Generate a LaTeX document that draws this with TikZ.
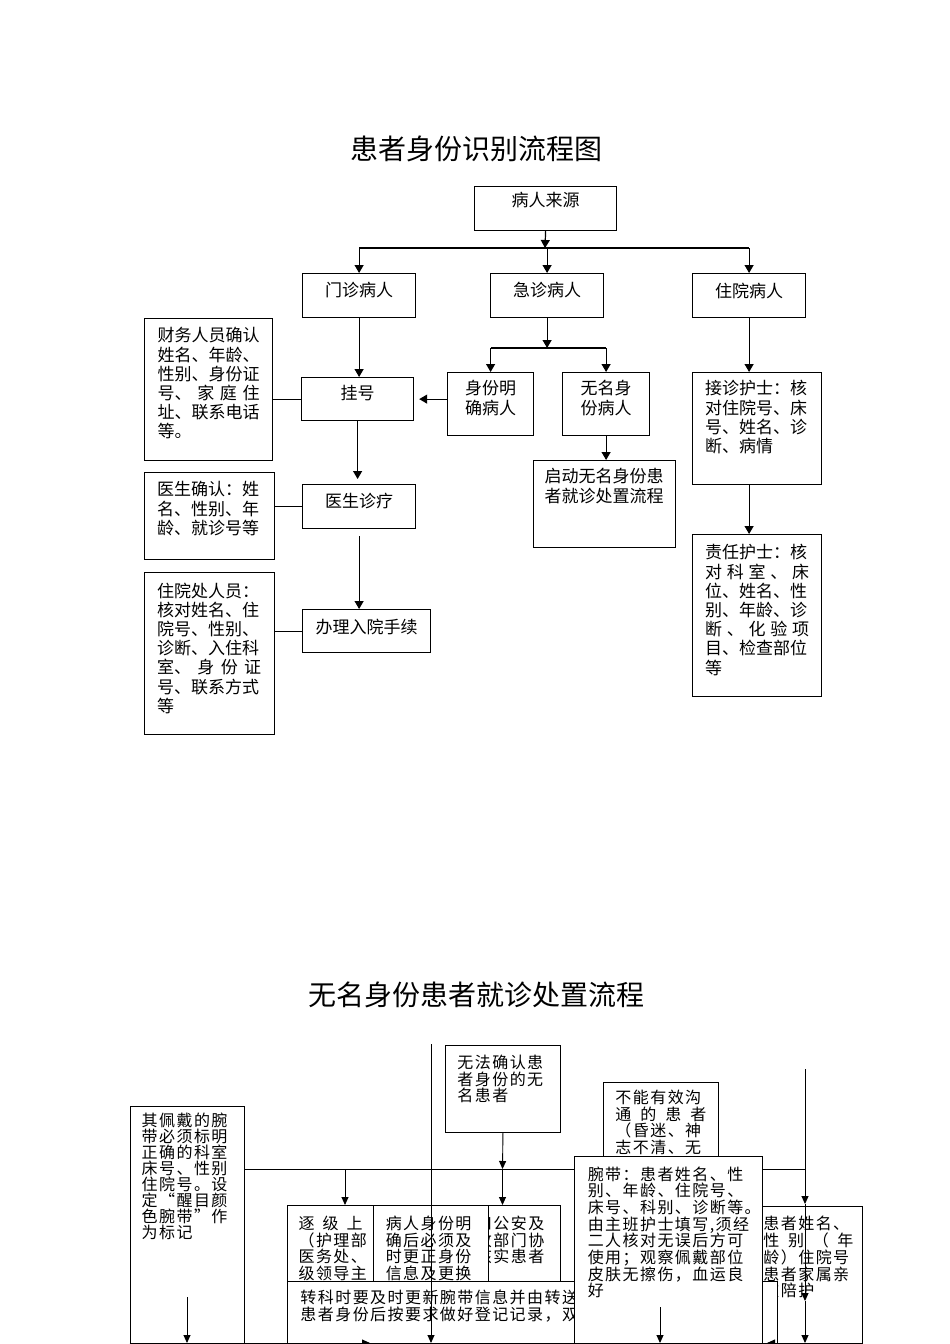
\documentclass[tikz,border=0pt]{standalone}
\usepackage{fontspec}
\setmainfont{Noto Sans CJK SC}
\newfontfamily\spacedcjk[LetterSpace=9]{Noto Sans CJK SC}
\usetikzlibrary{arrows.meta}

% 文字顶端对齐的固定高度框
\newcommand{\topbox}[2]{\parbox[c][#1][t]{\linewidth}{#2}}
% 两端撑开的一行
\newcommand{\spread}[2][\linewidth]{\makebox[#1][s]{#2}}

\tikzset{
  upper/.style={draw, fill=white, line width=1.2pt, anchor=north west,
    inner ysep=0pt, inner xsep=0pt, font=\fontsize{17}{19.2}\selectfont},
  lower/.style={draw, fill=white, line width=0.9pt, anchor=north west,
    inner ysep=0pt, inner xsep=12pt, font=\spacedcjk\fontsize{16}{16.7}\selectfont},
  arr/.style={-{Triangle[length=8pt,width=9pt]}, line width=1.2pt},
  thinarr/.style={-{Triangle[length=8pt,width=7pt]}, line width=0.9pt},
}

\begin{document}
\begin{tikzpicture}[x=1pt, y=-1pt]
    \useasboundingbox[fill=white] (0,0) rectangle (950,1344);

    % 患者身份识别流程图
    \node[font=\fontsize{28}{30}\selectfont] (title1) at (476,149) {患者身份识别流程图};

    \node[upper, text width=142] (src) at (474,186) {\topbox{44pt}{\vspace*{6pt}\centering 病人来源}};
    \node[upper, text width=113] (mz) at (302,273) {\topbox{44pt}{\vspace*{9pt}\centering 门诊病人}};
    \node[upper, text width=113] (jz) at (490,273) {\topbox{44pt}{\vspace*{9pt}\centering 急诊病人}};
    \node[upper, text width=113] (zy) at (692,273) {\topbox{44pt}{\vspace*{9pt}\centering 住院病人}};

    \node[upper, text width=112] (gh) at (301,377) {\topbox{43pt}{\vspace*{8pt}\centering 挂号}};
    \node[upper, text width=86] (sf) at (447,372) {\topbox{63pt}{\vspace*{8pt}\centering 身份明\\确病人}};
    \node[upper, text width=87] (wm) at (562,372) {\topbox{63pt}{\vspace*{8pt}\centering 无名身\\份病人}};
    \node[upper, text width=113] (ysz) at (302,484) {\topbox{44pt}{\vspace*{9pt}\centering 医生诊疗}};
    \node[upper, text width=128] (bl) at (302,609) {\topbox{43pt}{\vspace*{9pt}\centering 办理入院手续}};

    \node[upper, text width=102, inner xsep=13pt] (cw) at (144,318) {\topbox{142pt}{\vspace*{9pt}\raggedright
      财务人员确认\\姓名、年龄、\\性别、身份证\\\spread{号、\hfill 家\hfill 庭\hfill 住}\\址、联系电话\\等。}};
    \node[upper, text width=104, inner xsep=12.5pt] (jzhs) at (692,372) {\topbox{112pt}{\vspace*{8pt}\raggedright
      接诊护士：核\\对住院号、床\\号、姓名、诊\\断、病情}};
    \node[upper, text width=104, inner xsep=13pt] (ysqr) at (143.5,472) {\topbox{87pt}{\vspace*{9pt}\raggedright
      医生确认：姓\\名、性别、年\\龄、就诊号等}};
    \node[upper, text width=120, inner xsep=11pt] (qd) at (533,460) {\topbox{87pt}{\vspace*{8pt}\raggedright
      启动无名身份患\\者就诊处置流程}};
    \node[upper, text width=104, inner xsep=12.5pt] (zrhs) at (692,534) {\topbox{162pt}{\vspace*{10pt}\raggedright
      责任护士：核\\\spread{对\hfill 科\hfill 室\hfill 、\hfill 床}\\位、姓名、性\\别、年龄、诊\\\spread{断\hfill 、\hfill 化\hfill 验\hfill 项}\\目、检查部位\\等}};
    \node[upper, text width=104, inner xsep=13pt] (zyc) at (143.5,572) {\topbox{162pt}{\vspace*{10pt}\raggedright
      住院处人员：\\核对姓名、住\\院号、性别、\\诊断、入住科\\\spread{室、\hfill 身\hfill 份\hfill 证}\\号、联系方式\\等}};

    % 连线
    \coordinate (j1) at (545,248);
    \coordinate (j2) at (546.5,348);
    \draw[arr] (src.south) -- (j1);
    \draw[line width=1.2pt] (mz.north |- j1) -- (zy.north |- j1);
    \foreach \n in {mz,jz,zy}
        \draw[arr] (\n.north |- j1) -- (\n.north);
    \draw[arr] (jz.south) -- (jz.south |- j2);
    \draw[line width=1.2pt] (sf.north |- j2) -- (wm.north |- j2);
    \foreach \n in {sf,wm}
        \draw[arr] (\n.north |- j2) -- (\n.north);
    \draw[arr, shorten >=5pt] (sf.west |- gh.east) -- (gh.east);
    \draw[line width=1.2pt] (cw.east |- gh.west) -- (gh.west);
    \draw[arr] (mz.south) -- (mz.south |- gh.north);
    \draw[arr, shorten >=5pt] (gh.south) -- (gh.south |- ysz.north);
    \draw[line width=1.2pt] (ysqr.east |- ysz.west) -- (ysz.west);
    \draw[arr, shorten <=7pt] (ysz.south) -- (ysz.south |- bl.north);
    \draw[line width=1.2pt] (zyc.east |- bl.west) -- (bl.west);
    \draw[arr] (wm.south) -- (wm.south |- qd.north);
    \draw[arr] (zy.south) -- (zy.south |- jzhs.north);
    \draw[arr] (jzhs.south -| zy.south) -- (zrhs.north -| zy.south);

    % 无名身份患者就诊处置流程
    \node[font=\fontsize{28}{30}\selectfont] (title2) at (476,995) {无名身份患者就诊处置流程};

    \coordinate (ltop) at (431,1044);
    \coordinate (lend) at (431,1343);
    \coordinate (rtop) at (805,1069);
    \coordinate (r1) at (805,1204);
    \coordinate (r2) at (805,1301);
    \coordinate (r3) at (805,1343);
    \coordinate (j3) at (502.5,1169);
    \coordinate (hl) at (345,1169);

    \node[lower, text width=91, inner xsep=11.75pt, font=\spacedcjk\fontsize{16}{16}\selectfont] (qpd) at (129.5,1106)
      {\topbox{250pt}{\vspace*{6.5pt}\raggedright
      其佩戴的腕\\带必须标明\\正确的科室\\床号、性别\\住院号。设\\定“醒目颜\\色腕带”作\\为标记}};
    \node[lower, text width=91] (wfqr) at (445,1045) {\topbox{87pt}{\vspace*{9.5pt}\raggedright
      无法确认患\\者身份的无\\名患者}};
    \node[lower, text width=91] (bnyx) at (603,1082) {\topbox{120pt}{\vspace*{7.5pt}\raggedright
      不能有效沟\\\spread{通\hfill 的\hfill 患\hfill 者}\\（昏迷、神\\志不清、无}};

    \draw[thinarr] (wfqr.south) -- (j3);
    \draw[line width=0.9pt] (qpd.east |- j3) -- (rtop |- j3);

    \node[lower, text width=83, inner xsep=1.5pt] (ga) at (474,1205) {\topbox{75.5pt}{\vspace*{10.5pt}\raggedright
      和公安及\\政部门协\\核实患者}};
    \node[lower, text width=91] (brsf) at (373.3,1205) {\topbox{75.5pt}{\vspace*{10.5pt}\raggedright
      病人身份明\\确后必须及\\时更正身份\\信息及更换}};
    \node[lower, text width=64, inner xsep=11.15pt] (zjs) at (287,1205) {\topbox{75.5pt}{\vspace*{10.5pt}\raggedright
      \spread{逐\hfill 级\hfill 上}\\（护理部\\医务处、\\级领导主}};
    \node[lower, text width=98, inner xsep=1pt] (hzxm) at (762,1206) {\topbox{150pt}{\vspace*{10pt}\raggedright
      患者姓名、\\\spread[90pt]{性\hfill 别\hfill （\hfill 年}\\龄）住院号\\患者家属亲\\友陪护}};
    \node[lower, text width=464, inner xsep=13pt] (zk) at (287,1280.5) {\topbox{75pt}{\vspace*{9pt}\raggedright
      转科时要及时更新腕带信息并由转送\\患者身份后按要求做好登记记录，双签}};
    \node[lower, text width=161.4, inner xsep=13pt] (wd) at (574.3,1156) {\topbox{200pt}{\vspace*{10pt}\raggedright
      腕带：患者姓名、性\\别、年龄、住院号、\\床号、科别、诊断等。\\由主班护士填写,须经\\二人核对无误后方可\\使用；观察佩戴部位\\皮肤无擦伤，血运良\\好}};

    \draw[thinarr] (j3) -- (j3 |- ga.north);
    \draw[thinarr] (hl) -- (hl |- zjs.north);
    \draw[thinarr] (rtop) -- (r1);
    \draw[thinarr] (r1) -- (r2);
    \draw[thinarr] (r2) -- (r3);
    \draw[thinarr] (ltop) -- (lend);

    \coordinate (qa) at (187,1297);
    \coordinate (wa) at (660,1307);
    \draw[thinarr] (qa) -- (qa |- lend);
    \draw[thinarr] (wa) -- (wa |- lend);

    % 底边
    \coordinate (b1) at (370,1343);
    \coordinate (b2) at (767,1343);
    \draw[line width=0.9pt] (qpd.west |- lend) -- (hzxm.east |- lend);
    \draw[thinarr] (zk.west |- lend) -- (b1);
    \draw[thinarr] (hzxm.east |- lend) -- (b2);
\end{tikzpicture}
\end{document}
